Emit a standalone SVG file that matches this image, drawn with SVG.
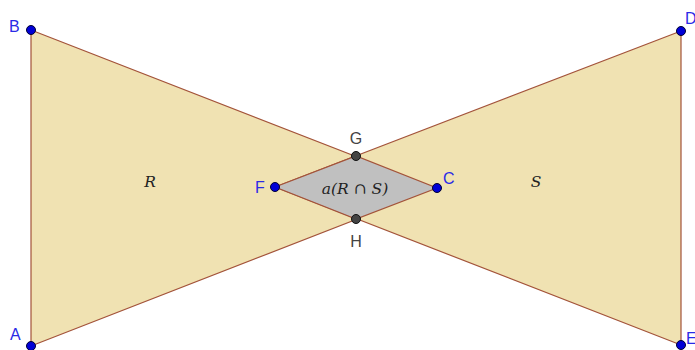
<svg xmlns="http://www.w3.org/2000/svg" width="695" height="350" viewBox="0 0 695 350">
<style>
.tri{fill:#f0e2b2;stroke:#a3533a;stroke-width:1.2;stroke-linejoin:round}
.inter{fill:#c0c0c0;stroke:#a3533a;stroke-width:1.2}
.pt{fill:#0000d6;stroke:#000033;stroke-width:1}
.ptg{fill:#444;stroke:#111;stroke-width:1}
.lbl{font-family:"Liberation Sans",Arial,sans-serif;font-size:16px;fill:#2a2ae6}
.lblg{font-family:"Liberation Sans",Arial,sans-serif;font-size:16px;fill:#444}
.math{font-family:"DejaVu Serif","Liberation Serif",serif;font-style:italic;font-size:15.5px;fill:#222}
</style>
<rect width="695" height="350" fill="#ffffff"/>
<g id="connectors">
<polygon id="R" class="tri" points="31,30 31,346 437,188"/>
<polygon id="S" class="tri" points="681,31 681,345 275,187"/>
<polygon id="RS" class="inter" points="275,187 356,156 437,188 356,219"/>
</g>
<g id="textR"><text class="math" x="150" y="187" text-anchor="middle">R</text></g>
<g id="textS"><text class="math" x="536" y="187" text-anchor="middle">S</text></g>
<g id="textRS"><text class="math" x="355" y="194" text-anchor="middle">a(R ∩ S)</text></g>
<g id="B"><circle class="pt" cx="31" cy="30" r="4.5"/><text class="lbl" x="9" y="32">B</text></g>
<g id="A"><circle class="pt" cx="31" cy="346" r="4.5"/><text class="lbl" x="10" y="340">A</text></g>
<g id="D"><circle class="pt" cx="681" cy="31" r="4.5"/><text class="lbl" x="685" y="24">D</text></g>
<g id="E"><circle class="pt" cx="681" cy="345" r="4.5"/><text class="lbl" x="686" y="344">E</text></g>
<g id="F"><circle class="pt" cx="275" cy="187" r="4.5"/><text class="lbl" x="255" y="193">F</text></g>
<g id="C"><circle class="pt" cx="437" cy="188" r="4.5"/><text class="lbl" x="443" y="184">C</text></g>
<g id="G"><circle class="ptg" cx="356" cy="156" r="4.5"/><text class="lblg" x="356" y="144" text-anchor="middle">G</text></g>
<g id="H"><circle class="ptg" cx="356" cy="219" r="4.5"/><text class="lblg" x="356" y="247" text-anchor="middle">H</text></g>
</svg>
